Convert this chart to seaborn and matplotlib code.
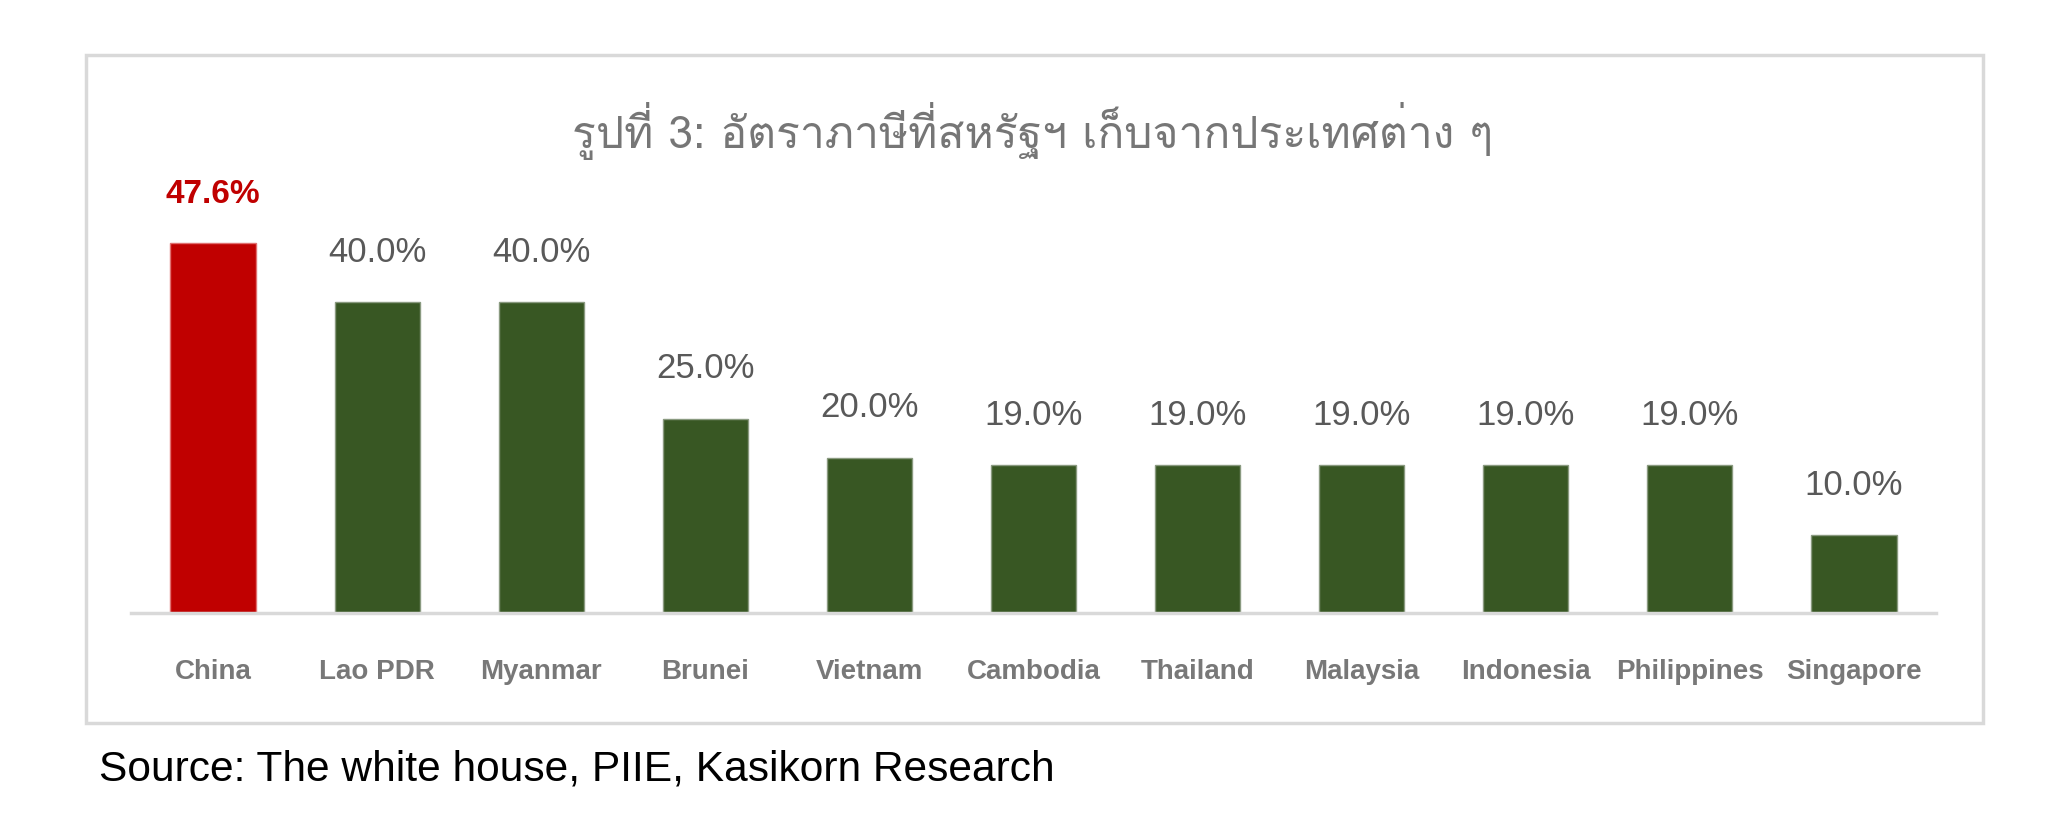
import matplotlib
matplotlib.use("Agg")
import matplotlib.pyplot as plt
import seaborn as sns
import pandas as pd

countries = ["China", "Lao PDR", "Myanmar", "Brunei", "Vietnam", "Cambodia",
             "Thailand", "Malaysia", "Indonesia", "Philippines", "Singapore"]
tariffs = [47.6, 40.0, 40.0, 25.0, 20.0, 19.0, 19.0, 19.0, 19.0, 19.0, 10.0]
highlight = "China"

title = "รูปที่ 3: อัตราภาษีที่สหรัฐฯ เก็บจากประเทศต่าง ๆ"
source = "Source: The white house, PIIE, Kasikorn Research"

df = pd.DataFrame({"country": countries, "tariff": tariffs})
colors = ["#C00000" if c == highlight else "#385723" for c in countries]

sns.set_style("white")
plt.rcParams["font.family"] = ["Liberation Sans", "DejaVu Sans"]

fig = plt.figure(figsize=(20.51, 8.35), dpi=100)
ax = fig.add_axes([0.0639, 0.2659, 0.880, 0.530])

sns.barplot(data=df, x="country", y="tariff", hue="country", palette=colors,
            saturation=1, legend=False, width=0.52, edgecolor="#8a9a80",
            linewidth=1, ax=ax)
ax.patches[0].set_edgecolor("#e07070")

for p, c, v in zip(ax.patches, countries, tariffs):
    x = p.get_x() + p.get_width() / 2
    if c == highlight:
        ax.text(x, v + 4.3, f"{v:.1f}%", ha="center", va="bottom", fontsize=24,
                fontweight="bold", color="#C00000")
    else:
        ax.text(x, v + 4.3, f"{v:.1f}%", ha="center", va="bottom", fontsize=25,
                color="#595959")

ax.set_xlim(-0.5, 10.5)
ax.set_ylim(0, 57)
ax.set_yticks([])
ax.set_xlabel("")
ax.set_ylabel("")
for s in ["top", "left", "right"]:
    ax.spines[s].set_visible(False)
ax.spines["bottom"].set_color("#D9D9D9")
ax.spines["bottom"].set_linewidth(2.5)
ax.tick_params(axis="x", length=0, pad=33)
for lab in ax.get_xticklabels():
    lab.set_fontsize(20)
    lab.set_fontweight("bold")
    lab.set_color("#787878")

# outer frame
frame = plt.Rectangle((86 / 2051, 1 - 723 / 835), (1983 - 86) / 2051, (723 - 55) / 835,
                      transform=fig.transFigure, fill=False, edgecolor="#D9D9D9",
                      linewidth=2.5)
fig.patches.append(frame)

fig.text(1033 / 2051, 1 - 131 / 835, title, ha="center", va="center", fontsize=32,
         color="#767676", family=["Loma", "DejaVu Sans"])
fig.text(99 / 2051, 1 - 770 / 835, source, ha="left", va="center", fontsize=30.6,
         color="black")

fig.savefig("out.png", dpi=100)
